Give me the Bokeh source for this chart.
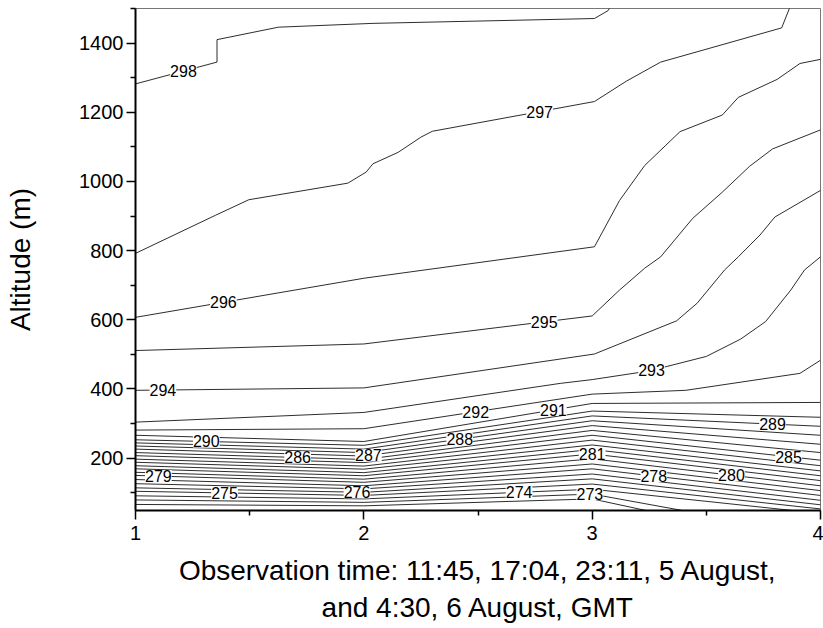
import numpy as np
from bokeh.plotting import figure
from bokeh.models import FixedTicker, ColumnDataSource
from bokeh.core.properties import value
from bokeh.embed import file_html
from bokeh.resources import INLINE

# ---------------- data ----------------
# Lower, densely packed contour levels (K); altitude (m) where each level
# crosses the four observation times 1..4
LOW_LEVELS = [272, 273, 274, 275, 276, 277, 278, 279, 280, 281,
              282, 283, 284, 285, 286, 287, 288, 289, 290, 291]
LOW_TIMES = [1, 2, 3, 4]
ALT_T1 = [66, 79, 91, 104, 114, 126, 138, 150, 159, 169,
          178, 188, 197, 207, 216, 226, 235, 244, 253, 266]
ALT_T2 = [62, 72, 82, 92, 101, 111, 120, 130, 139, 149,
          158, 168, 177, 187, 196, 206, 216, 226, 237, 248]
ALT_T3 = [82, 96, 110, 125, 140, 154, 169, 183, 198, 212,
          225, 238, 252, 266, 280, 294, 308, 322, 336, 358]
ALT_T4 = [-60, -24, 40, 53, 65, 78, 92, 106, 120, 135,
          149, 163, 178, 194, 216, 240, 266, 292, 318, 361]

# Upper contour levels, traced with intermediate nodes (time, altitude m)
C292_T = [1, 2, 3, 3.41, 3.91, 4]
C292_ALT = [281, 285, 385, 396, 445, 483]
C293_T = [1, 2, 2.86, 3.0, 3.25, 3.5, 3.65, 3.76, 3.87, 3.93, 4]
C293_ALT = [304, 332, 416, 427, 452, 494, 544, 595, 686, 744, 782]
C294_T = [1, 2, 3.01, 3.37, 3.46, 3.58, 3.64, 3.735, 3.80, 4]
C294_ALT = [396, 403, 501, 597, 648, 744, 782, 845, 897, 974]
C295_T = [1, 2, 3, 3.12, 3.23, 3.30, 3.44, 3.57, 3.69, 3.79, 4]
C295_ALT = [511, 530, 611, 686, 749, 782, 893, 969, 1044, 1094, 1149]
C296_T = [1, 2, 3.01, 3.12, 3.23, 3.385, 3.57, 3.64, 3.81, 3.91, 4]
C296_ALT = [607, 720, 811, 945, 1046, 1144, 1192, 1243, 1295, 1341, 1353]
C297_T = [1, 1.35, 1.496, 1.93, 2.01, 2.04, 2.15, 2.25, 2.30, 3.01,
          3.15, 3.30, 3.83, 3.90]
C297_ALT = [792, 902, 947, 995, 1027, 1051, 1084, 1128, 1145, 1231,
            1290, 1345, 1444, 1560]
C298_T = [1, 1.357, 1.357, 1.626, 2.04, 3.01, 3.07, 3.10]
C298_ALT = [1282, 1345, 1410, 1446, 1457, 1471, 1494, 1530]

# Contour labels: level and time at which the label sits
LABEL_LEVELS = [298, 297, 296, 295, 294, 293, 292, 291, 290, 289, 288,
                287, 286, 285, 281, 280, 279, 278, 276, 275, 274, 273]
LABEL_T = [1.21, 2.77, 1.385, 2.79, 1.12, 3.26, 2.49, 2.83, 1.31, 3.79, 2.42,
           2.02, 1.71, 3.86, 3.0, 3.61, 1.10, 3.27, 1.97, 1.39, 2.68, 2.99]

X_TICKS = [1, 2, 3, 4]
X_MINOR = [1.5, 2.5, 3.5]
Y_TICKS = [200, 400, 600, 800, 1000, 1200, 1400]
Y_MINOR = [100, 300, 500, 700, 900, 1100, 1300, 1500]

X_LABEL = "Observation time: 11:45, 17:04, 23:11, 5 August,\nand 4:30, 6 August, GMT"
Y_LABEL = "Altitude (m)"

# ---------------- build contour polylines ----------------
lines = {}
for i, lev in enumerate(LOW_LEVELS):
    lines[lev] = (list(LOW_TIMES), [ALT_T1[i], ALT_T2[i], ALT_T3[i], ALT_T4[i]])
lines[292] = (C292_T, C292_ALT)
lines[293] = (C293_T, C293_ALT)
lines[294] = (C294_T, C294_ALT)
lines[295] = (C295_T, C295_ALT)
lines[296] = (C296_T, C296_ALT)
lines[297] = (C297_T, C297_ALT)
lines[298] = (C298_T, C298_ALT)

levels = sorted(lines)
src = ColumnDataSource(dict(xs=[lines[l][0] for l in levels],
                            ys=[lines[l][1] for l in levels]))

lab_y = [float(np.interp(t, lines[l][0], lines[l][1]))
         for l, t in zip(LABEL_LEVELS, LABEL_T)]
lab_src = ColumnDataSource(dict(x=LABEL_T, y=lab_y,
                                text=[str(l) for l in LABEL_LEVELS]))

FONT = "Liberation Sans"

p = figure(width=823, height=625, x_range=(1, 4), y_range=(48.5, 1500),
           output_backend="svg", toolbar_location=None,
           min_border_left=135, min_border_right=3, min_border_top=8,
           min_border_bottom=112)
p.xgrid.visible = False
p.ygrid.visible = False
p.outline_line_color = "#777777"
p.outline_line_width = 1
p.background_fill_color = "white"
p.border_fill_color = "white"

p.multi_line(xs="xs", ys="ys", source=src, line_color="#151515", line_width=0.9)

p.text(x="x", y="y", text="text", source=lab_src,
       text_font=value(FONT), text_font_size="16px", text_color="black",
       text_align="center", text_baseline="middle",
       background_fill_color="white")

for ax in (p.xaxis[0], p.yaxis[0]):
    ax.axis_line_width = 2
    ax.axis_line_color = "black"
    ax.major_tick_line_width = 1.5
    ax.minor_tick_line_width = 1.5
    ax.major_tick_line_color = "black"
    ax.minor_tick_line_color = "black"
    ax.major_tick_in = 0
    ax.major_tick_out = 9
    ax.minor_tick_in = 0
    ax.minor_tick_out = 5
    ax.major_label_text_font = FONT
    ax.major_label_text_font_size = "20px"
    ax.major_label_text_color = "black"
    ax.axis_label_text_font = FONT
    ax.axis_label_text_font_style = "normal"
    ax.axis_label_text_color = "black"
    ax.axis_label_text_font_size = "28px"

p.xaxis.ticker = FixedTicker(ticks=X_TICKS, minor_ticks=X_MINOR)
p.yaxis.ticker = FixedTicker(ticks=Y_TICKS, minor_ticks=Y_MINOR)
p.xaxis.axis_label = X_LABEL
p.yaxis.axis_label = Y_LABEL
p.xaxis.major_label_standoff = 6
p.yaxis.major_label_standoff = 3
p.xaxis.axis_label_standoff = 12
p.yaxis.axis_label_standoff = 40

open("out.html", "w").write(file_html(p, INLINE))
